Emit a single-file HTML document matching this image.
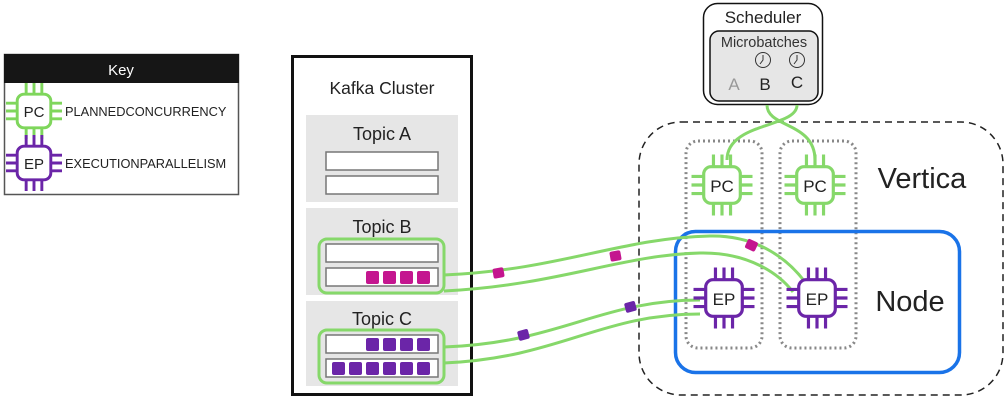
<!DOCTYPE html>
<html><head><meta charset="utf-8"><style>
html,body{margin:0;padding:0;background:#fff;}
svg{display:block;font-family:"Liberation Sans",sans-serif;}
</style></head><body>
<svg width="1007" height="401" viewBox="0 0 1007 401" xmlns="http://www.w3.org/2000/svg">
<defs>
<g id="pins">
  <path d="M-7,-15 v-10 M0,-15 v-10 M7,-15 v-10 M-7,15 v10 M0,15 v10 M7,15 v10 M-15,-7 h-10 M-15,0 h-10 M-15,7 h-10 M15,-7 h10 M15,0 h10 M15,7 h10" stroke-width="2.6" fill="none"/>
</g>
</defs>
<!-- Key -->
<rect x="4.5" y="54.5" width="234" height="140" fill="#fff" stroke="#555" stroke-width="1.5"/>
<rect x="4" y="54" width="235" height="29" fill="#161616"/>
<text x="121" y="75" font-size="15" fill="#fff" text-anchor="middle">Key</text>
<g transform="translate(34,111) scale(1.12)" stroke="#7fd65c"><use href="#pins"/><rect x="-15" y="-15" width="30" height="30" rx="6" fill="#fff" stroke-width="2.6"/></g>
<text x="34" y="117" font-size="15" text-anchor="middle" fill="#222">PC</text>
<text x="65" y="116" font-size="12.8" fill="#222">PLANNEDCONCURRENCY</text>
<g transform="translate(34,163) scale(1.12)" stroke="#6b25a8"><use href="#pins"/><rect x="-15" y="-15" width="30" height="30" rx="6" fill="#fff" stroke-width="2.6"/></g>
<text x="34" y="169" font-size="15" text-anchor="middle" fill="#222">EP</text>
<text x="65" y="168" font-size="12.8" fill="#222">EXECUTIONPARALLELISM</text>

<!-- Kafka -->
<rect x="292.5" y="56.5" width="179" height="338" fill="#fff" stroke="#111" stroke-width="3"/>
<text x="382" y="94" font-size="17.5" text-anchor="middle" fill="#222">Kafka Cluster</text>
<rect x="306" y="115" width="152" height="87" fill="#e6e6e6"/>
<text x="382" y="140" font-size="18" text-anchor="middle" fill="#222">Topic A</text>
<rect x="326" y="152" width="112" height="18" fill="#fff" stroke="#777" stroke-width="1.5"/>
<rect x="326" y="176" width="112" height="18" fill="#fff" stroke="#777" stroke-width="1.5"/>
<rect x="306" y="208" width="152" height="87" fill="#e6e6e6"/>
<text x="382" y="233" font-size="18" text-anchor="middle" fill="#222">Topic B</text>
<rect x="319" y="239" width="125" height="54" rx="8" fill="none" stroke="#86d86a" stroke-width="3"/>
<rect x="326" y="244" width="112" height="18" fill="#fff" stroke="#777" stroke-width="1.5"/>
<rect x="326" y="268" width="112" height="18" fill="#fff" stroke="#777" stroke-width="1.5"/>
<g fill="#c4168f"><rect x="366" y="271" width="13" height="13" rx="2"/><rect x="383" y="271" width="13" height="13" rx="2"/><rect x="400" y="271" width="13" height="13" rx="2"/><rect x="417" y="271" width="13" height="13" rx="2"/></g>
<rect x="306" y="301" width="152" height="85" fill="#e6e6e6"/>
<text x="382" y="325" font-size="18" text-anchor="middle" fill="#222">Topic C</text>
<rect x="319" y="330" width="125" height="53" rx="8" fill="none" stroke="#86d86a" stroke-width="3"/>
<rect x="326" y="335" width="112" height="18" fill="#fff" stroke="#777" stroke-width="1.5"/>
<rect x="326" y="359" width="112" height="18" fill="#fff" stroke="#777" stroke-width="1.5"/>
<g fill="#6b25a8"><rect x="366" y="338" width="13" height="13" rx="2"/><rect x="383" y="338" width="13" height="13" rx="2"/><rect x="400" y="338" width="13" height="13" rx="2"/><rect x="417" y="338" width="13" height="13" rx="2"/>
<rect x="332" y="362" width="13" height="13" rx="2"/><rect x="349" y="362" width="13" height="13" rx="2"/><rect x="366" y="362" width="13" height="13" rx="2"/><rect x="383" y="362" width="13" height="13" rx="2"/><rect x="400" y="362" width="13" height="13" rx="2"/><rect x="417" y="362" width="13" height="13" rx="2"/></g>

<!-- Vertica -->
<rect x="639" y="122" width="364" height="273" rx="42" fill="none" stroke="#222" stroke-width="1.5" stroke-dasharray="7,5"/>
<text x="922" y="188" font-size="29" text-anchor="middle" fill="#222">Vertica</text>
<rect x="686" y="141" width="76" height="207" rx="12" fill="none" stroke="#888" stroke-width="3" stroke-dasharray="2,3"/>
<rect x="780" y="141" width="76" height="207" rx="12" fill="none" stroke="#888" stroke-width="3" stroke-dasharray="2,3"/>
<rect x="675.5" y="231.5" width="284" height="141" rx="20" fill="none" stroke="#1a73e8" stroke-width="3.5"/>
<text x="910" y="311" font-size="29" text-anchor="middle" fill="#222">Node</text>

<!-- Scheduler -->
<rect x="703.5" y="3.5" width="119" height="101" rx="14" fill="#fff" stroke="#111" stroke-width="1.5"/>
<text x="763" y="23" font-size="17" text-anchor="middle" fill="#222">Scheduler</text>
<rect x="710" y="31" width="108" height="70" rx="9" fill="#e6e6e6" stroke="#111" stroke-width="1.5"/>
<text x="764" y="47" font-size="14.5" text-anchor="middle" fill="#333">Microbatches</text>
<g fill="none" stroke="#333" stroke-width="1"><circle cx="763" cy="60" r="7.5"/><path d="M763,55 v5 l-3,4"/><circle cx="797" cy="60" r="7.5"/><path d="M797,55 v5 l-3,4"/></g>
<text x="734" y="90" font-size="17" text-anchor="middle" fill="#999">A</text>
<text x="765" y="90" font-size="17" text-anchor="middle" fill="#222">B</text>
<text x="797" y="88" font-size="17" text-anchor="middle" fill="#222">C</text>

<!-- scheduler lines -->
<g fill="none" stroke="#86d86a" stroke-width="3">
<path d="M767,105 C767,128 815,122 815,160"/>
<path d="M797,105 C797,128 727,122 727,160"/>
</g>

<!-- PC chips -->
<g transform="translate(722,185) scale(1.22)" stroke="#86d86a"><use href="#pins"/><rect x="-15" y="-15" width="30" height="30" rx="6" fill="#fff" stroke-width="2.6"/></g>
<text x="722" y="192" font-size="17" text-anchor="middle" fill="#222">PC</text>
<g transform="translate(815,185) scale(1.22)" stroke="#86d86a"><use href="#pins"/><rect x="-15" y="-15" width="30" height="30" rx="6" fill="#fff" stroke-width="2.6"/></g>
<text x="815" y="192" font-size="17" text-anchor="middle" fill="#222">PC</text>

<!-- pipes -->
<g fill="none" stroke="#86d86a" stroke-width="3">
<path d="M444,275 C560,270 620,238 710,236 C760,235 790,262 805,282"/>
<path d="M444,291 C560,285 620,255 700,253 C750,252 780,275 793,292"/>
<path d="M444,347 C560,343 600,300 700,300"/>
<path d="M444,363 C560,358 600,314 700,314"/>
</g>
<g fill="#c4168f"><rect x="493" y="268" width="11" height="10" rx="2" transform="rotate(-10 498 273)"/><rect x="610" y="251" width="11" height="10" rx="2" transform="rotate(-10 615 256)"/><rect x="746" y="240" width="11" height="10" rx="2" transform="rotate(25 751 245)"/></g>
<g fill="#6b25a8"><rect x="518" y="330" width="11" height="10" rx="2" transform="rotate(-15 523 335)"/><rect x="625" y="302" width="11" height="10" rx="2" transform="rotate(-15 630 307)"/></g>

<!-- EP chips -->
<g transform="translate(724,298) scale(1.22)" stroke="#6b25a8"><use href="#pins"/><rect x="-15" y="-15" width="30" height="30" rx="6" fill="#fff" stroke-width="2.6"/></g>
<text x="724" y="305" font-size="17" text-anchor="middle" fill="#222">EP</text>
<g transform="translate(817,298) scale(1.22)" stroke="#6b25a8"><use href="#pins"/><rect x="-15" y="-15" width="30" height="30" rx="6" fill="#fff" stroke-width="2.6"/></g>
<text x="817" y="305" font-size="17" text-anchor="middle" fill="#222">EP</text>
</svg>
</body></html>
